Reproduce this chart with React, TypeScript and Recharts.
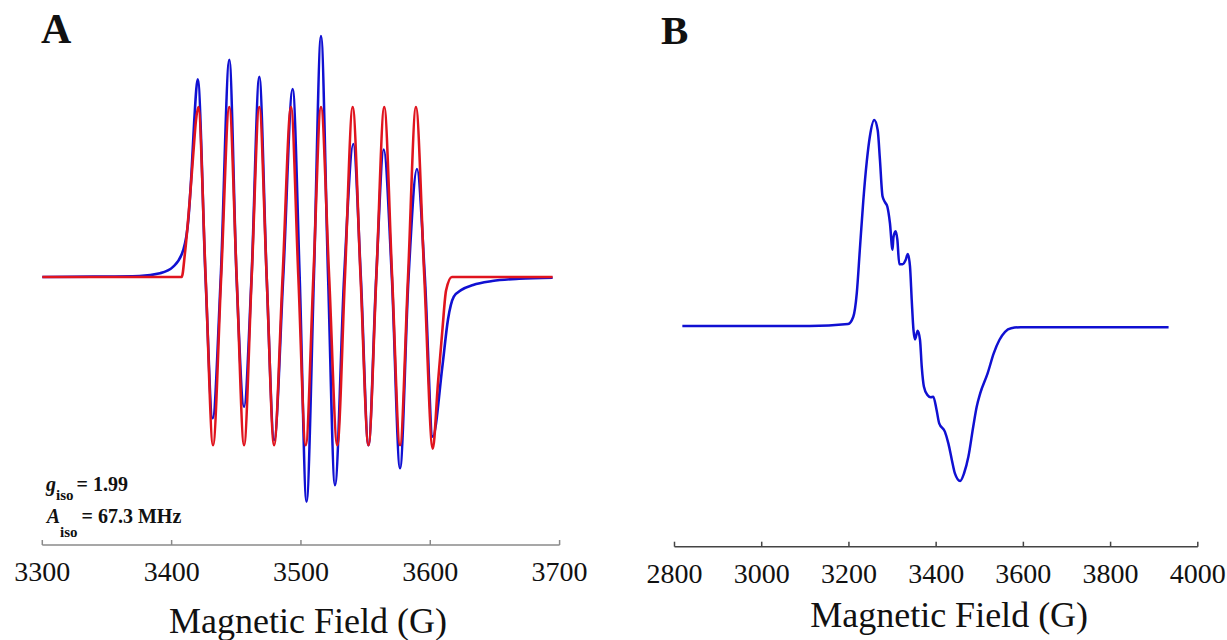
import React from 'react';
import { LineChart, Line, XAxis, YAxis } from 'recharts';

// panel A: experimental (blue) and simulated (red) spectra, field in G
const expField = [3300, 3340, 3375, 3391, 3401.3, 3409, 3412.9, 3415.5, 3417.5, 3420.2, 3426.2, 3431.7, 3438.0, 3444.6, 3450.2, 3456.0, 3461.8, 3467.8, 3473.5, 3479.3, 3486.3, 3493.6, 3499.0, 3504.3, 3510.0, 3515.5, 3521.0, 3526.3, 3533.4, 3540.5, 3546.3, 3552.2, 3558.2, 3564.0, 3570.3, 3576.6, 3583.2, 3589.7, 3595.8, 3601.9, 3609.3, 3613.7, 3618.2, 3624.1, 3633.1, 3647.9, 3668.7, 3694.6];
const expSignal = [0, 0.002, 0.006, 0.022, 0.061, 0.159, 0.335, 0.63, 0.92, 1.163, 0, -0.831, 0, 1.278, 0, -0.763, 0, 1.178, 0, -0.959, 0, 1.106, 0, -1.322, 0, 1.418, 0, -1.224, 0, 0.782, 0, -0.99, 0, 0.75, 0, -1.125, 0, 0.635, 0, -0.939, -0.53, -0.25, -0.116, -0.076, -0.047, -0.024, -0.01, -0.004];

const simField = [3300, 3407.8, 3410.3, 3414.2, 3416.8, 3418.8, 3420.6, 3426.3, 3432.0, 3438.3, 3444.6, 3450.3, 3456.0, 3461.9, 3467.8, 3473.5, 3479.2, 3485.8, 3492.3, 3498.0, 3503.7, 3509.6, 3515.5, 3521.8, 3528.1, 3534.0, 3540.0, 3546.1, 3552.2, 3558.3, 3564.4, 3570.5, 3576.6, 3582.8, 3588.9, 3595.4, 3601.9, 3606, 3609.5, 3612.2, 3616.7, 3694.6];
const simSignal = [0, 0, 0.14, 0.47, 0.73, 0.92, 1.0, 0, -0.99, 0, 1.0, 0, -0.99, 0, 1.0, 0, -0.99, 0, 1.0, 0, -0.99, 0, 1.0, 0, -0.99, 0, 1.0, 0, -0.99, 0, 1.0, 0, -0.99, 0, 1.0, 0, -1.01, -0.62, -0.3, -0.08, 0, 0];

const ticksA = [3300, 3400, 3500, 3600, 3700];

// panel B: broad spectrum
const bField = [2818, 3110, 3198, 3210, 3218, 3225, 3233, 3241, 3248, 3258, 3266, 3271, 3277, 3283, 3288, 3294, 3300, 3302, 3307, 3311, 3315.5, 3323, 3330, 3335, 3340, 3344, 3348, 3351.5, 3357.7, 3363, 3367, 3372, 3380, 3387.5, 3393.4, 3401, 3407, 3420, 3428, 3436, 3443, 3455, 3464, 3474, 3485, 3493, 3501, 3518, 3532, 3545, 3558, 3572, 3594, 3933];
const bSignal = [0, 0, 0.01, 0.045, 0.16, 0.37, 0.61, 0.8, 0.92, 1.0, 0.95, 0.81, 0.63, 0.6, 0.58, 0.5, 0.37, 0.43, 0.46, 0.42, 0.3, 0.3, 0.32, 0.35, 0.29, 0.126, -0.019, -0.065, -0.023, -0.068, -0.198, -0.295, -0.335, -0.346, -0.343, -0.408, -0.473, -0.513, -0.57, -0.65, -0.715, -0.752, -0.715, -0.634, -0.489, -0.392, -0.327, -0.23, -0.133, -0.068, -0.028, -0.011, -0.006, -0.006];

const ticksB = [2800, 3000, 3200, 3400, 3600, 3800, 4000];

const zip = (xs: number[], ys: number[]) => xs.map((x, i) => ({ x, y: ys[i] }));
const expData = zip(expField, expSignal);
const simData = zip(simField, simSignal);
const bData = zip(bField, bSignal);

const SERIF = '"Liberation Serif", "Times New Roman", serif';
const BLUE = '#1010d2';
const RED = '#e0141e';

// tick label drawn by hand so the serif font is sure to apply
const FieldTick = (props: any) => {
  const { x, y, payload } = props;
  return (
    <text x={x} y={y} dy="0.71em" textAnchor="middle" fill="#111" fontSize={28} fontFamily={SERIF}>
      {payload.value}
    </text>
  );
};

const axisTitle = (dx: number, baseline: number) => (props: any) => {
  const vb = props.viewBox || {};
  return (
    <text
      x={vb.x + vb.width / 2 + dx}
      y={baseline}
      textAnchor="middle"
      fill="#111"
      fontSize={36}
      fontFamily={SERIF}
    >
      Magnetic Field (G)
    </text>
  );
};

export default function App() {
  return (
    <div style={{ position: 'absolute', left: 0, top: 0, width: 1227, height: 640, background: '#fff' }}>
      <div style={{ position: 'absolute', left: 0, top: 0 }}>
        <LineChart width={620} height={640} margin={{ top: 5, right: 60.4, left: 42.3, bottom: 0 }}>
          <XAxis
            dataKey="x"
            type="number"
            domain={[3300, 3700]}
            ticks={ticksA}
            interval={0}
            height={95}
            tickSize={-5}
            tickMargin={21}
            axisLine={{ stroke: '#8a8a8a', strokeWidth: 1.5 }}
            tickLine={{ stroke: '#8a8a8a', strokeWidth: 1.5 }}
            tick={<FieldTick />}
            label={axisTitle(7, 633)}
          />
          <YAxis hide type="number" domain={[-1.5765, 1.6]} />
          <Line data={expData} dataKey="y" type="monotone" stroke={BLUE} strokeWidth={2.6} dot={false} isAnimationActive={false} />
          <Line data={simData} dataKey="y" type="monotone" stroke={RED} strokeWidth={2.6} dot={false} isAnimationActive={false} />
        </LineChart>
      </div>
      <div style={{ position: 'absolute', left: 620, top: 0 }}>
        <LineChart width={607} height={640} margin={{ top: 16, right: 29.2, left: 54.5, bottom: 0 }}>
          <XAxis
            dataKey="x"
            type="number"
            domain={[2800, 4000]}
            ticks={ticksB}
            interval={0}
            height={93.3}
            tickSize={-5}
            tickMargin={21}
            axisLine={{ stroke: '#444', strokeWidth: 1.5 }}
            tickLine={{ stroke: '#444', strokeWidth: 1.5 }}
            tick={<FieldTick />}
            label={axisTitle(13, 627)}
          />
          <YAxis hide type="number" domain={[-1.0714, 1.5049]} />
          <Line data={bData} dataKey="y" type="monotone" stroke={BLUE} strokeWidth={2.5} dot={false} isAnimationActive={false} />
        </LineChart>
      </div>
      <svg width={1227} height={640} style={{ position: 'absolute', left: 0, top: 0, pointerEvents: 'none' }}>
        <g fontFamily={SERIF} fontWeight="bold" fill="#111">
          <text x={41} y={43.3} fontSize={42}>A</text>
          <text x={661} y={44} fontSize={41}>B</text>
          <text x={46} y={490.7} fontSize={20}>
            <tspan fontStyle="italic">g</tspan>
            <tspan fontSize={15} dy={9}>iso</tspan>
            <tspan dy={-9} dx={3}>= 1.99</tspan>
          </text>
          <text x={46.7} y={522.7} fontSize={20}>
            <tspan fontStyle="italic">A</tspan>
            <tspan fontSize={15} dy={14}>iso</tspan>
            <tspan dy={-14} dx={4}>= 67.3 MHz</tspan>
          </text>
        </g>
      </svg>
    </div>
  );
}
